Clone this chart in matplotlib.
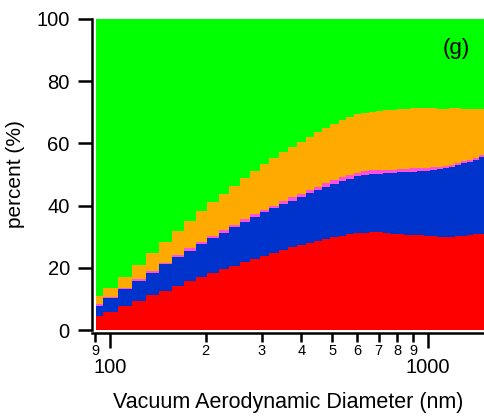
import numpy as np
import matplotlib
matplotlib.use("Agg")
import matplotlib.pyplot as plt

plt.rcParams['font.family'] = ['Liberation Sans', 'DejaVu Sans']

# bin edges (nm) and the layer percentages per bin, bottom to top
edges = [90.4, 95.1, 106.0, 117.3, 129.8, 142.6, 156.7, 171.0, 186.5, 202.0,
         220.3, 236.9, 256.6, 275.9, 296.6, 316.6, 340.4, 363.4, 387.9, 414.1,
         438.7, 464.9, 492.6, 525.8, 553.2, 586.2, 616.7, 653.5, 687.5, 723.3,
         761.0, 800.6, 842.3, 879.7, 925.5, 973.5, 1016.8, 1069.7, 1117.3, 1167.0,
         1218.9, 1273.1, 1329.8, 1388.9, 1450.7, 1515.3]
red = [4.6, 5.9, 7.8, 9.3, 11.3, 12.5, 14.3, 15.8, 17.0, 18.3,
       19.6, 20.6, 21.9, 22.8, 23.8, 24.8, 25.7, 26.7, 27.3, 28.0,
       28.6, 29.3, 29.9, 30.2, 30.9, 31.2, 31.2, 31.5, 31.5, 31.2,
       30.9, 30.9, 30.5, 30.5, 30.5, 30.2, 30.2, 29.9, 29.9, 29.9,
       30.2, 30.2, 30.5, 30.9, 30.9]
blue = [3.2, 4.5, 5.4, 6.5, 7.0, 8.7, 9.2, 9.6, 10.6, 11.3,
        11.6, 12.5, 12.8, 13.5, 14.1, 14.4, 14.8, 14.8, 15.5, 16.1,
        16.4, 16.7, 17.0, 17.7, 17.7, 18.3, 18.6, 18.7, 18.7, 19.3,
        19.6, 19.9, 20.3, 20.3, 20.6, 20.9, 21.2, 21.9, 22.2, 22.5,
        22.9, 23.5, 23.5, 23.8, 24.7]
magenta = [0.7, 0.3, 0.3, 0.6, 0.7, 0.3, 0.6, 1.0, 0.7, 0.6,
           1.0, 0.7, 1.0, 1.0, 0.7, 0.7, 1.0, 1.3, 0.9, 0.9,
           1.0, 1.3, 1.3, 1.3, 1.2, 1.0, 1.3, 1.2, 1.2, 0.9,
           0.9, 1.0, 1.0, 1.3, 1.0, 1.0, 1.0, 0.6, 0.6, 0.7,
           0.6, 0.6, 0.7, 0.6, 0.7]
orange = [2.5, 2.9, 3.5, 4.5, 5.8, 6.8, 7.7, 8.6, 10.0, 11.0,
          11.5, 12.5, 13.2, 13.8, 14.8, 15.4, 15.7, 16.0, 16.8, 17.1,
          17.7, 17.7, 18.0, 18.3, 18.7, 19.0, 18.7, 18.7, 19.0, 19.3,
          19.3, 19.3, 19.3, 19.3, 19.3, 19.3, 19.0, 18.7, 18.4, 18.3,
          17.7, 16.8, 16.4, 15.8, 14.8]
green = list(100 - np.array(red) - np.array(blue) - np.array(magenta) - np.array(orange))

layers = [red, blue, magenta, orange, green]
colors = ['#FF0000', '#0033CC', '#FF4FE0', '#FFAA00', '#00FF00']

major_ticks = [100, 1000]
minor_ticks = [90, 200, 300, 400, 500, 600, 700, 800, 900]
minor_labels = ['9', '2', '3', '4', '5', '6', '7', '8', '9']

fig = plt.figure(figsize=(4.84, 4.18), dpi=100)
ax = fig.add_axes([92/484, 88/418, 392/484, 311/418])

base = np.zeros(len(red))
for vals, c in zip(layers, colors):
    top = base + np.array(vals)
    ax.stairs(top, edges, baseline=base, fill=True, color=c, lw=0)
    base = top

ax.set_xscale('log')
ax.set_xlim(87.8, 1503)
ax.set_ylim(0, 100)

ax.spines['top'].set_visible(False)
ax.spines['right'].set_visible(False)
ax.spines['left'].set_linewidth(1.8)
ax.spines['bottom'].set_linewidth(1.8)
ax.spines['bottom'].set_position(('outward', 2))

ax.set_yticks([0, 20, 40, 60, 80, 100])
ax.tick_params(axis='y', direction='out', length=10, width=1.8, pad=6, labelsize=14.5)

ax.set_xticks(major_ticks)
ax.set_xticklabels(['100', '1000'])
ax.set_xticks(minor_ticks, minor=True)
ax.set_xticklabels(minor_labels, minor=True)
ax.tick_params(axis='x', which='major', direction='out', length=11, width=1.8,
               pad=7, labelsize=14.5)
ax.tick_params(axis='x', which='minor', direction='out', length=6.5, width=1.8,
               pad=1.5, labelsize=10.5)

ax.set_ylabel('percent (%)', fontsize=15)
ax.yaxis.set_label_coords(-0.17, 0.5)
ax.set_xlabel('Vacuum Aerodynamic Diameter (nm)', fontsize=15.5)
ax.xaxis.set_label_coords(0.5, -0.2)
ax.xaxis.label.set_va('top')

ax.text(0.93, 0.905, '(g)', transform=ax.transAxes, ha='center', va='center',
        fontsize=16)

fig.savefig('out.png', dpi=100)
